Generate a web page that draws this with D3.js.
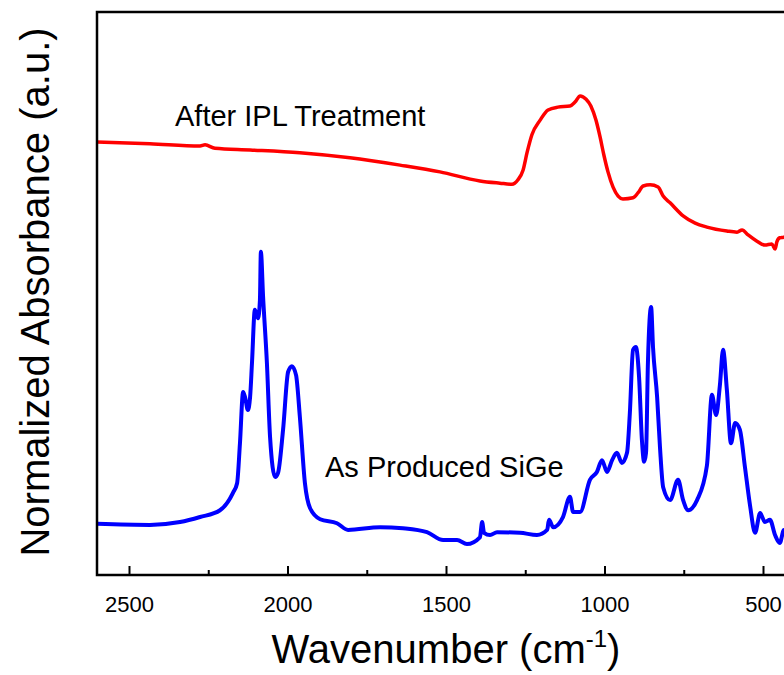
<!DOCTYPE html>
<html>
<head>
<meta charset="utf-8">
<script src="https://cdn.jsdelivr.net/npm/d3@7"></script>
<style>
    body { margin: 0; background: #fff; }
    text { font-family: "Liberation Sans", Arial, sans-serif; }
</style>
</head>
<body>
<div id="demo"></div>
<script>

// After IPL Treatment (red)
const redWn = [2601, 2434, 2276, 2260, 2229, 2118, 1961, 1803, 1645, 1519, 1393, 1330, 1292, 1273, 1257, 1244, 1229, 1203, 1178, 1147, 1109, 1093, 1077, 1058, 1043, 1027, 1014, 1002, 989, 973, 957, 942, 910, 894, 878, 856, 831, 815, 793, 752, 714, 677, 614, 582, 566, 547, 519, 494, 472, 462, 456, 447, 434, 420];
const redAbs = [76.9, 76.6, 76.2, 76.4, 75.8, 75.5, 75.0, 74.1, 72.8, 71.6, 70.0, 69.6, 69.4, 70.2, 71.9, 75.1, 78.2, 80.8, 82.6, 83.1, 83.3, 84.0, 85.1, 84.5, 83.3, 80.8, 77.8, 74.6, 71.6, 68.9, 67.3, 66.8, 67.0, 67.9, 69.1, 69.3, 68.9, 67.3, 66.1, 63.8, 62.5, 61.8, 61.1, 60.9, 61.3, 60.4, 59.3, 58.6, 58.8, 57.9, 59.2, 59.9, 60.0, 60.5];

// As Produced SiGe (blue)
const blueWn = [2601, 2434, 2339, 2276, 2213, 2172, 2159, 2150, 2140, 2134, 2125, 2118, 2112, 2103, 2093, 2087, 2084, 2077, 2065, 2055, 2039, 2030, 2014, 1998, 1986, 1973, 1961, 1945, 1929, 1897, 1844, 1809, 1708, 1636, 1560, 1509, 1465, 1434, 1393, 1386, 1380, 1361, 1339, 1267, 1213, 1181, 1175, 1162, 1131, 1109, 1099, 1077, 1046, 1024, 1008, 992, 976, 961, 945, 929, 920, 910, 901, 891, 882, 875, 869, 863, 853, 847, 834, 825, 815, 793, 768, 752, 736, 708, 677, 661, 648, 636, 626, 614, 601, 588, 573, 557, 541, 525, 509, 494, 478, 462, 447, 434, 420];
const blueAbs = [9.1, 8.9, 9.4, 10.3, 11.5, 14.6, 16.3, 23.4, 32.5, 31.6, 29.3, 31.6, 37.7, 47.1, 45.6, 48.8, 57.4, 49.4, 37.7, 24.5, 17.4, 18.1, 25.8, 36.1, 37.1, 35.5, 28.1, 16.3, 11.9, 9.9, 9.2, 8.0, 8.5, 8.3, 7.6, 6.2, 6.2, 5.5, 6.7, 9.4, 7.5, 7.1, 7.6, 7.5, 7.1, 8.0, 9.8, 8.5, 10.3, 13.9, 11.2, 11.2, 16.9, 18.3, 20.4, 18.3, 20.4, 21.7, 19.9, 21.7, 28.8, 40.0, 40.5, 35.2, 24.0, 20.1, 21.7, 37.7, 47.6, 40.5, 31.6, 22.7, 15.6, 13.3, 16.9, 13.3, 11.5, 13.3, 19.4, 32.0, 28.4, 33.7, 40.0, 32.9, 23.4, 27.0, 25.8, 19.2, 12.4, 7.5, 11.0, 9.4, 9.8, 7.1, 5.7, 8.0, 7.5];

// x axis ticks
const majorTicks = [2500, 2000, 1500, 1000, 500];
const minorTicks = [2250, 1750, 1250, 750];

const w = 784;
const h = 675;
const m = {top: 12, left: 97, bottom: 575};

let svg = d3.select("#demo")
    .append("svg")
    .attr("width", w)
    .attr("height", h);

// wavenumber runs right to left, plot continues past the right edge of the page
let x = d3.scaleLinear()
    .domain([2500, 500])
    .range([129, 763]);

let y = d3.scaleLinear()
    .domain([0, 100])
    .range([m.bottom, m.top]);

svg.append("clipPath")
    .attr("id", "clip")
    .append("rect")
    .attr("x", m.left)
    .attr("y", m.top)
    .attr("width", w - m.left)
    .attr("height", m.bottom - m.top);

const line = d3.line()
    .curve(d3.curveMonotoneX)
    .x(d => x(d[0]))
    .y(d => y(d[1]));

const plot = svg.append("g").attr("clip-path", "url(#clip)");

plot.append("path")
    .datum(redWn.map((v, i) => [v, redAbs[i]]))
    .attr("fill", "none")
    .attr("stroke", "#ff0000")
    .attr("stroke-width", 3.5)
    .attr("stroke-linejoin", "round")
    .attr("d", line);

plot.append("path")
    .datum(blueWn.map((v, i) => [v, blueAbs[i]]))
    .attr("fill", "none")
    .attr("stroke", "#0000ff")
    .attr("stroke-width", 4)
    .attr("stroke-linejoin", "round")
    .attr("d", line);

//Bottom axis: major ticks point inward, labels below.
const xAxis = d3.axisBottom(x)
    .tickValues(majorTicks)
    .tickSize(-9)
    .tickPadding(21)
    .tickFormat(d3.format("d"));

const gx = svg.append("g")
    .attr("transform", "translate(0," + m.bottom + ")")
    .call(xAxis);

gx.select(".domain").remove();
gx.selectAll(".tick line").attr("stroke", "#000").attr("stroke-width", 2);
gx.selectAll(".tick text")
    .attr("fill", "#000")
    .style("font-size", "22px");

svg.append("g")
    .attr("transform", "translate(0," + m.bottom + ")")
    .call(d3.axisBottom(x).tickValues(minorTicks).tickSize(-5).tickFormat(""))
    .call(g => g.select(".domain").remove())
    .selectAll(".tick line").attr("stroke", "#000").attr("stroke-width", 2);

// frame: left, top, bottom
svg.append("path")
    .attr("d", "M" + w + "," + m.top + "H" + m.left + "V" + m.bottom + "H" + w)
    .attr("fill", "none")
    .attr("stroke", "#000")
    .attr("stroke-width", 2.5);

// curve labels
svg.append("text")
    .attr("x", 175)
    .attr("y", 126)
    .style("font-size", "29px")
    .text("After IPL Treatment");

svg.append("text")
    .attr("x", 325)
    .attr("y", 477)
    .style("font-size", "29px")
    .text("As Produced SiGe");

// axis titles
const xt = svg.append("text")
    .attr("x", 446)
    .attr("y", 663)
    .attr("text-anchor", "middle")
    .style("font-size", "40px");
xt.append("tspan").text("Wavenumber (cm");
xt.append("tspan").attr("dy", -16).style("font-size", "24px").text("-1");
xt.append("tspan").attr("dy", 16).text(")");

svg.append("text")
    .attr("transform", "translate(49,292) rotate(-90)")
    .attr("text-anchor", "middle")
    .style("font-size", "40px")
    .text("Normalized Absorbance (a.u.)");

</script>
</body>
</html>
